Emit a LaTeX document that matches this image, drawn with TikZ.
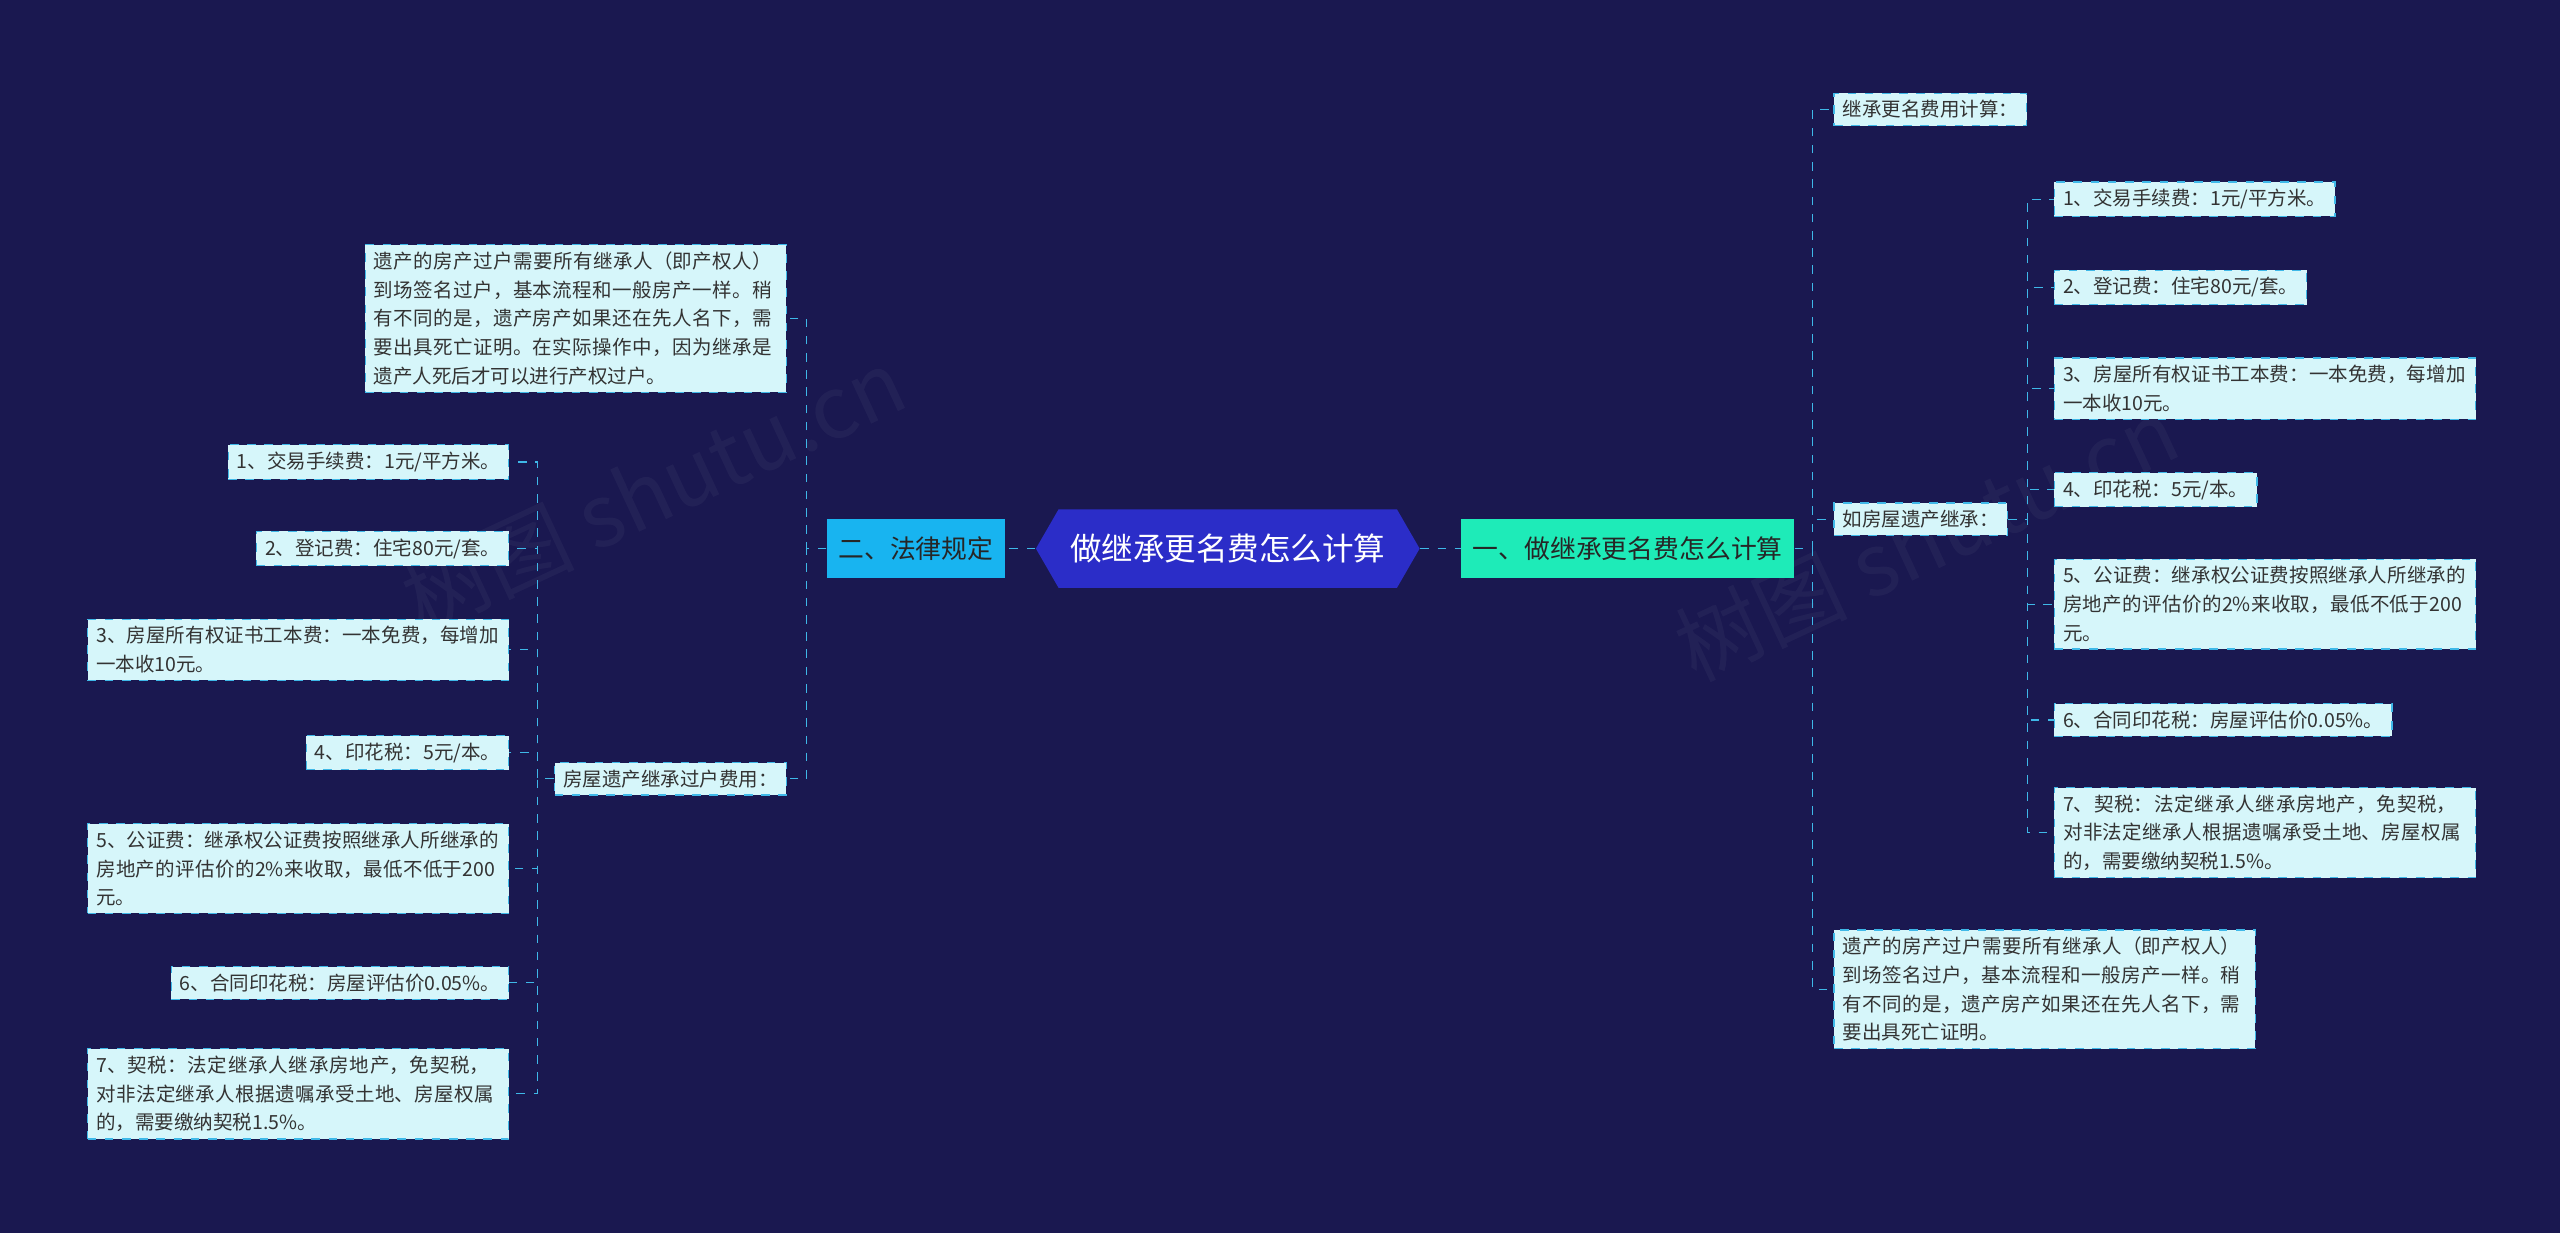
\documentclass[tikz,border=0pt]{standalone}
\usepackage{fontspec}
\setmainfont{Noto Sans CJK SC}
\XeTeXlinebreaklocale "zh"
\XeTeXlinebreakskip = 0pt plus 1pt
\usetikzlibrary{shapes.symbols}
\definecolor{bg}{HTML}{1A1850}
\definecolor{rootc}{HTML}{2B2DC8}
\definecolor{leftc}{HTML}{18B4F0}
\definecolor{rightc}{HTML}{1EEBB8}
\definecolor{leafc}{HTML}{D6F6FA}
\definecolor{linec}{HTML}{3FB8E8}
\tikzset{
  leaf/.style={draw=linec, dashed, fill=leafc, text=black!80, font=\fontsize{6.8}{10}\selectfont,
    inner xsep=3pt, inner ysep=2.5pt, align=left},
  para/.style={leaf, text width=#1},
  link/.style={draw=linec, dashed, thin},
}
\begin{document}
\begin{tikzpicture}[x=0.02cm,y=-0.02cm]
\fill[bg] (0,0) rectangle (1568,755);
\useasboundingbox (0,0) rectangle (1568,755);
% watermark
\node[rotate=25, text=white, opacity=0.04, font=\fontsize{30}{30}\selectfont] at (400,300) {树图 shutu.cn};
\node[rotate=25, text=white, opacity=0.04, font=\fontsize{30}{30}\selectfont] at (1180,330) {树图 shutu.cn};
% root and main branches
\node[signal, signal to=west and east, signal pointer angle=120, fill=rootc, text=white,
  font=\fontsize{11}{13}\selectfont, minimum height=0.96cm, inner xsep=4pt] (root) at (752,336) {做继承更名费怎么计算};
\node[fill=leftc, text=black!85, font=\fontsize{9}{11}\selectfont, minimum height=0.72cm, inner xsep=4pt] (law) at (561,336) {二、法律规定};
\node[fill=rightc, text=black!85, font=\fontsize{9}{11}\selectfont, minimum height=0.72cm, inner xsep=4pt] (calc) at (997,336) {一、做继承更名费怎么计算};
\draw[link] (root.west) -- (law.east);
\draw[link] (root.east) -- (calc.west);
% right side
\node[leaf, anchor=west] (rcost) at (1123,67) {继承更名费用计算：};
\node[leaf, anchor=west] (rhouse) at (1123,318) {如房屋遗产继承：};
\node[para=4.95cm, anchor=west] (rnote) at (1123,606) {遗产的房产过户需要所有继承人（即产权人）到场签名过户，基本流程和一般房产一样。稍有不同的是，遗产房产如果还在先人名下，需要出具死亡证明。};
\foreach \n in {rcost,rhouse,rnote}
  \draw[link] (calc.east) -- ++(11,0) |- (\n.west);
\node[leaf, anchor=west] (ra1) at (1258,122) {1、交易手续费：1元/平方米。};
\node[leaf, anchor=west] (ra2) at (1258,176) {2、登记费：住宅80元/套。};
\node[para=4.95cm, anchor=west] (ra3) at (1258,238) {3、房屋所有权证书工本费：一本免费，每增加一本收10元。};
\node[leaf, anchor=west] (ra4) at (1258,300) {4、印花税：5元/本。};
\node[para=4.95cm, anchor=west] (ra5) at (1258,370) {5、公证费：继承权公证费按照继承人所继承的房地产的评估价的2\%来收取，最低不低于200 元。};
\node[leaf, anchor=west] (ra6) at (1258,441) {6、合同印花税：房屋评估价0.05\%。};
\node[para=4.95cm, anchor=west] (ra7) at (1258,510) {7、契税：法定继承人继承房地产，免契税，对非法定继承人根据遗嘱承受土地、房屋权属的，需要缴纳契税1.5\%。};
\foreach \n in {ra1,ra2,ra3,ra4,ra5,ra6,ra7}
  \draw[link] (rhouse.east) -- ++(12,0) |- (\n.west);
% left side
\node[para=4.95cm, anchor=east] (lnote) at (482,195) {遗产的房产过户需要所有继承人（即产权人）到场签名过户，基本流程和一般房产一样。稍有不同的是，遗产房产如果还在先人名下，需要出具死亡证明。在实际操作中，因为继承是遗产人死后才可以进行产权过户。};
\node[leaf, anchor=east] (lhouse) at (482,477) {房屋遗产继承过户费用：};
\foreach \n in {lnote,lhouse}
  \draw[link] (law.west) -- ++(-12,0) |- (\n.east);
\node[leaf, anchor=east] (la1) at (312,283) {1、交易手续费：1元/平方米。};
\node[leaf, anchor=east] (la2) at (312,336) {2、登记费：住宅80元/套。};
\node[para=4.95cm, anchor=east] (la3) at (312,398) {3、房屋所有权证书工本费：一本免费，每增加一本收10元。};
\node[leaf, anchor=east] (la4) at (312,461) {4、印花税：5元/本。};
\node[para=4.95cm, anchor=east] (la5) at (312,532) {5、公证费：继承权公证费按照继承人所继承的房地产的评估价的2\%来收取，最低不低于200 元。};
\node[leaf, anchor=east] (la6) at (312,602) {6、合同印花税：房屋评估价0.05\%。};
\node[para=4.95cm, anchor=east] (la7) at (312,670) {7、契税：法定继承人继承房地产，免契税，对非法定继承人根据遗嘱承受土地、房屋权属的，需要缴纳契税1.5\%。};
\foreach \n in {la1,la2,la3,la4,la5,la6,la7}
  \draw[link] (lhouse.west) -- ++(-10,0) |- (\n.east);
\end{tikzpicture}
\end{document}
